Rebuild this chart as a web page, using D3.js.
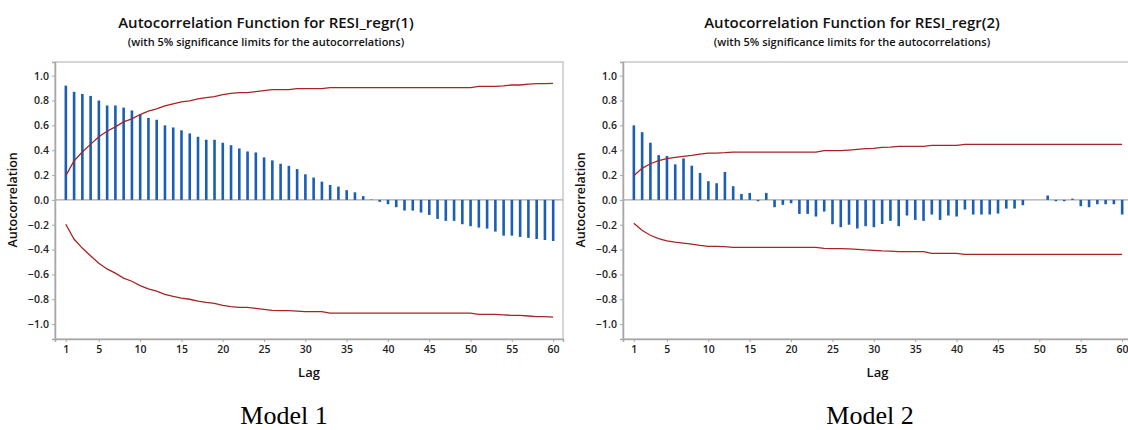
<!DOCTYPE html>
<html lang="en">
<head>
    <meta charset="UTF-8">
    <title>Autocorrelation Functions</title>
    <script src="https://d3js.org/d3.v7.min.js"></script>
    <style>
        body { margin: 0; background: #fff; }
        svg { display: block; }
        .tick text { font-family: "Open Sans", "Noto Sans", sans-serif; font-weight: 600; font-size: 10.5px; fill: #222; }
        .title { font-family: "Open Sans", "Noto Sans", sans-serif; font-weight: 600; fill: #111; }
        .model { font-family: "Liberation Serif", "Times New Roman", serif; font-size: 26px; fill: #000; }
    </style>
</head>
<body>
<div id="chart"></div>
<script>
    // lags 1..60
    const lags = d3.range(1, 61);
    const xTicks = [1, 5, 10, 15, 20, 25, 30, 35, 40, 45, 50, 55, 60];
    const yTicks = [1.0, 0.8, 0.6, 0.4, 0.2, 0.0, -0.2, -0.4, -0.6, -0.8, -1.0];

    // Model 1 autocorrelations
    const acf1 = [
        0.92, 0.87, 0.853, 0.837, 0.80, 0.76, 0.76, 0.743, 0.72, 0.687,
        0.66, 0.645, 0.60, 0.583, 0.56, 0.535, 0.508, 0.484, 0.484, 0.46,
        0.44, 0.414, 0.39, 0.382, 0.342, 0.318, 0.291, 0.274, 0.248, 0.206,
        0.18, 0.147, 0.12, 0.107, 0.078, 0.061, 0.03, 0.003, -0.016, -0.035,
        -0.059, -0.086, -0.086, -0.102, -0.121, -0.153, -0.169, -0.169, -0.196, -0.212,
        -0.223, -0.231, -0.255, -0.288, -0.288, -0.298, -0.306, -0.315, -0.323, -0.331
    ];
    const upper1 = [
        0.193, 0.313, 0.385, 0.447, 0.508, 0.553, 0.588, 0.628, 0.652, 0.687,
        0.714, 0.733, 0.757, 0.773, 0.789, 0.797, 0.813, 0.824, 0.832, 0.848,
        0.858, 0.864, 0.864, 0.872, 0.88, 0.888, 0.888, 0.888, 0.896, 0.896,
        0.896, 0.896, 0.904, 0.904, 0.904, 0.904, 0.904, 0.904, 0.904, 0.904,
        0.904, 0.904, 0.904, 0.904, 0.904, 0.904, 0.904, 0.904, 0.904, 0.904,
        0.914, 0.914, 0.914, 0.918, 0.925, 0.925, 0.932, 0.936, 0.936, 0.938
    ];
    const lower1 = [
        -0.196, -0.315, -0.388, -0.45, -0.51, -0.556, -0.59, -0.63, -0.655, -0.69,
        -0.716, -0.735, -0.76, -0.776, -0.791, -0.8, -0.815, -0.826, -0.834, -0.85,
        -0.86, -0.866, -0.866, -0.874, -0.882, -0.89, -0.892, -0.892, -0.896, -0.9,
        -0.9, -0.9, -0.911, -0.911, -0.911, -0.911, -0.911, -0.911, -0.911, -0.911,
        -0.911, -0.911, -0.911, -0.911, -0.911, -0.911, -0.911, -0.911, -0.911, -0.911,
        -0.922, -0.922, -0.922, -0.925, -0.93, -0.93, -0.935, -0.94, -0.94, -0.944
    ];

    // Model 2 autocorrelations
    const acf2 = [
        0.60, 0.545, 0.46, 0.36, 0.353, 0.286, 0.334, 0.275, 0.217, 0.15,
        0.134, 0.225, 0.11, 0.048, 0.056, -0.011, 0.056, -0.059, -0.040, -0.027,
        -0.113, -0.113, -0.134, -0.094, -0.196, -0.22, -0.20, -0.23, -0.212, -0.22,
        -0.194, -0.169, -0.212, -0.126, -0.161, -0.169, -0.118, -0.161, -0.126, -0.134,
        -0.078, -0.118, -0.118, -0.118, -0.11, -0.07, -0.07, -0.043, 0.0, 0.0,
        0.035, -0.011, -0.011, 0.01, -0.051, -0.059, -0.035, -0.035, -0.035, -0.118
    ];
    const upper2 = [
        0.195, 0.254, 0.291, 0.316, 0.332, 0.342, 0.35, 0.358, 0.369, 0.377,
        0.377, 0.38, 0.385, 0.385, 0.385, 0.385, 0.385, 0.385, 0.385, 0.385,
        0.385, 0.385, 0.385, 0.396, 0.396, 0.396, 0.401, 0.406, 0.412, 0.414,
        0.422, 0.424, 0.43, 0.43, 0.43, 0.43, 0.438, 0.438, 0.438, 0.438,
        0.447, 0.447, 0.447, 0.447, 0.447, 0.447, 0.447, 0.447, 0.447, 0.447,
        0.447, 0.447, 0.447, 0.447, 0.447, 0.447, 0.447, 0.447, 0.447, 0.447
    ];
    const lower2 = [
        -0.188, -0.245, -0.285, -0.312, -0.33, -0.34, -0.348, -0.356, -0.366, -0.374,
        -0.374, -0.377, -0.382, -0.382, -0.382, -0.382, -0.382, -0.382, -0.382, -0.382,
        -0.382, -0.382, -0.382, -0.39, -0.392, -0.392, -0.395, -0.398, -0.403, -0.406,
        -0.411, -0.413, -0.417, -0.417, -0.417, -0.417, -0.43, -0.43, -0.43, -0.43,
        -0.438, -0.438, -0.438, -0.438, -0.438, -0.438, -0.438, -0.438, -0.438, -0.438,
        -0.438, -0.438, -0.438, -0.438, -0.438, -0.438, -0.438, -0.438, -0.438, -0.438
    ];

    const width = 1128, height = 430;
    const svg = d3.select("#chart").append("svg")
        .attr("width", width)
        .attr("height", height);

    function drawPanel(p) {
        const x = d3.scaleLinear().domain([-0.3, 61.2]).range([p.left, p.right]);
        const y = d3.scaleLinear().domain([-1.12, 1.11]).range([339, 62]);
        const g = svg.append("g");

        // frame
        g.append("rect")
            .attr("x", p.left).attr("y", y.range()[1])
            .attr("width", p.right - p.left).attr("height", y.range()[0] - y.range()[1])
            .attr("fill", "none").attr("stroke", "#c8c8c8").attr("stroke-width", 1.5);

        const yAxis = g.append("g")
            .attr("transform", `translate(${p.left},0)`)
            .call(d3.axisLeft(y).tickValues(p.yTicks).tickSize(3).tickPadding(3).tickFormat(d3.format(".1f")));
        const xAxis = g.append("g")
            .attr("transform", `translate(0,${y.range()[0]})`)
            .call(d3.axisBottom(x).tickValues(p.xTicks).tickSize(3).tickPadding(4));
        [yAxis, xAxis].forEach(a => {
            a.select(".domain").attr("stroke", "#a8a8a8").attr("stroke-width", 1.5);
            a.selectAll(".tick line").attr("stroke", "#a8a8a8");
        });

        // zero line
        g.append("line")
            .attr("x1", p.left).attr("x2", p.right)
            .attr("y1", y(0)).attr("y2", y(0))
            .attr("stroke", "#a8a8a8").attr("stroke-width", 1.2);

        // bars
        g.selectAll(".bar").data(p.acf).join("rect")
            .attr("class", "bar")
            .attr("x", (d, i) => x(lags[i]) - 1.2)
            .attr("width", 2.6)
            .attr("y", d => Math.min(y(d), y(0)))
            .attr("height", d => Math.abs(y(d) - y(0)))
            .attr("fill", "#1a5fb4");

        // significance limits
        const line = d3.line().x((d, i) => x(lags[i])).y(d => y(d));
        [p.upper, p.lower].forEach(s => {
            g.append("path").datum(s)
                .attr("d", line)
                .attr("fill", "none")
                .attr("stroke", "#a52524")
                .attr("stroke-width", 1.3);
        });

        // titles
        g.append("text").attr("class", "title")
            .attr("x", p.titleX).attr("y", 28)
            .attr("text-anchor", "middle").attr("font-size", 15)
            .text(p.title);
        g.append("text").attr("class", "title")
            .attr("x", p.titleX).attr("y", 46)
            .attr("text-anchor", "middle").attr("font-size", 11)
            .text("(with 5% significance limits for the autocorrelations)");

        g.append("text").attr("class", "title")
            .attr("transform", `translate(${p.left - 38},${y(0)}) rotate(-90)`)
            .attr("text-anchor", "middle").attr("font-size", 12.5)
            .text("Autocorrelation");
        g.append("text").attr("class", "title")
            .attr("x", (p.left + p.right) / 2).attr("y", 377)
            .attr("text-anchor", "middle").attr("font-size", 13)
            .text("Lag");

        g.append("text").attr("class", "model")
            .attr("x", p.modelX).attr("y", 424)
            .attr("text-anchor", "middle")
            .text(p.model);
    }

    drawPanel({
        left: 55, right: 563, acf: acf1, upper: upper1, lower: lower1,
        xTicks: xTicks, yTicks: yTicks, titleX: 266,
        title: "Autocorrelation Function for RESI_regr(1)", modelX: 284, model: "Model 1"
    });
    drawPanel({
        left: 623, right: 1132, acf: acf2, upper: upper2, lower: lower2,
        xTicks: xTicks, yTicks: yTicks, titleX: 852,
        title: "Autocorrelation Function for RESI_regr(2)", modelX: 870, model: "Model 2"
    });
</script>
</body>
</html>
